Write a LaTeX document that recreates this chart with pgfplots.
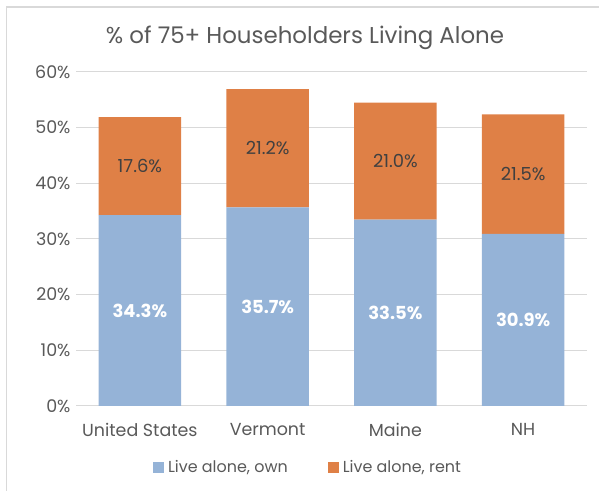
\documentclass[border=0pt]{standalone}
\usepackage{pgfplots}
\pgfplotsset{compat=1.18}
\usepackage{fontspec}
\setmainfont{Poppins}
\definecolor{ownc}{HTML}{95B3D7}
\definecolor{rentc}{HTML}{DF8046}
\definecolor{txt}{HTML}{595959}
\definecolor{lbl}{HTML}{404040}
\definecolor{gridc}{HTML}{D9D9D9}
\begin{document}
\begin{tikzpicture}[x=1bp,y=1bp]
\useasboundingbox (0,0) rectangle (599,491);
\draw[gridc, line width=1.2bp] (6.5,-5) -- (6.5,484) -- (610,484);
\node[txt, font=\fontsize{23}{27}\selectfont] at (305,453) {\% of 75+ Householders Living Alone};
\begin{axis}[
  at={(76bp,85bp)}, anchor=south west,
  scale only axis, width=511bp, height=334bp,
  ybar stacked, bar width=82.5bp,
  xmin=-0.5, xmax=3.5, ymin=0, ymax=60,
  xtick=data, xticklabels={United States,Vermont,Maine,NH},
  ytick={0,10,...,60},
  yticklabel={\pgfmathprintnumber{\tick}\%},
  /pgf/number format/assume math mode=true,
  ymajorgrids, grid style={gridc, line width=1bp},
  axis line style={draw=none},
  axis x line*=bottom,
  x axis line style={gridc, line width=1bp},
  major tick length=0pt,
  tick label style={txt, font=\fontsize{17.5}{20}\selectfont},
  yticklabel style={xshift=-2bp},
  xticklabel style={yshift=-14bp},
  legend style={at={(axis description cs:0.454,-0.183)}, anchor=center, draw=none, fill=none,
    legend columns=-1, font=\fontsize{16}{19}\selectfont, text=txt,
    /tikz/every odd column/.append style={column sep=2bp},
    /tikz/every even column/.append style={column sep=38bp}},
  legend image code/.code={\fill[#1] (0bp,-5.5bp) rectangle (11bp,5.5bp);},
  every node near coord/.append style={anchor=center},
]
\addplot[fill=ownc, draw=none, nodes near coords={\pgfmathprintnumber[fixed,precision=1,fixed zerofill]{\pgfplotspointmeta}\%},
  nodes near coords style={white, font=\bfseries\fontsize{18}{20}\selectfont}]
  coordinates {(0,34.3) (1,35.7) (2,33.5) (3,30.9)};
\addplot[fill=rentc, draw=none, nodes near coords={\pgfmathprintnumber[fixed,precision=1,fixed zerofill]{\pgfplotspointmeta}\%},
  nodes near coords style={lbl, font=\fontsize{18}{20}\selectfont}]
  coordinates {(0,17.6) (1,21.2) (2,21.0) (3,21.5)};
\legend{{Live alone, own},{Live alone, rent}}
\end{axis}
\end{tikzpicture}
\end{document}
